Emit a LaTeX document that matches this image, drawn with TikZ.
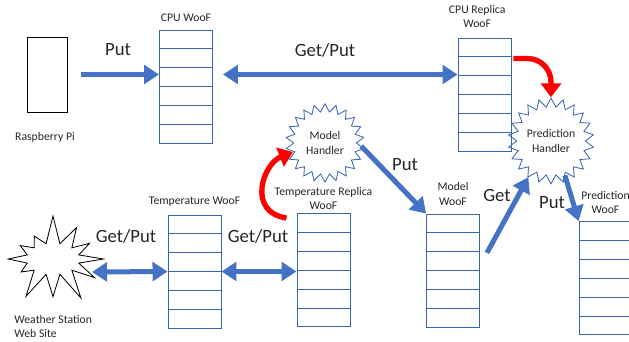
\documentclass[tikz,border=0pt]{standalone}
\usepackage{fontspec}
\setmainfont{Carlito}
\usepackage{xcolor}
\definecolor{woofblue}{HTML}{4472C4}
\definecolor{woofedge}{HTML}{3B64AE}
\definecolor{trigred}{HTML}{FF0000}
\definecolor{labelgray}{HTML}{262626}
\usetikzlibrary{shapes.geometric, shapes.symbols, arrows.meta, positioning, calc}

% horizontal slots inside a WooF box
\newcommand{\woofrows}[1]{%
  \foreach \k in {1,...,5}
    \draw[woofedge, line width=0.8pt] ($(#1.north west)!\k/6!(#1.south west)$) -- ($(#1.north east)!\k/6!(#1.south east)$);}

\begin{document}
\begin{tikzpicture}[
  x=0.03cm, y=-0.03cm,
  woof/.style={rectangle, draw=woofedge, line width=0.8pt,
    minimum width=1.59cm, minimum height=3.39cm, inner sep=0pt},
  handler/.style={star, star points=22, star point ratio=1.25, draw=woofedge,
    line width=0.7pt, minimum size=2.35cm, inner sep=0pt, align=center,
    font=\fontsize{10}{12}\selectfont, text=labelgray},
  title/.style={align=center, inner sep=1pt, font=\fontsize{10}{12}\selectfont,
    text=labelgray},
  verb/.style={inner sep=1pt, font=\fontsize{16}{19}\selectfont, text=labelgray},
  arrow/.style={-{Triangle[length=0.45cm, width=0.56cm]}, line width=0.15cm,
    color=woofblue},
  bidir/.style={{Triangle[length=0.45cm, width=0.56cm]}-{Triangle[length=0.45cm, width=0.56cm]},
    line width=0.15cm, color=woofblue},
  trigger/.style={-{Triangle[length=0.42cm, width=0.6cm]}, line width=0.16cm,
    color=trigred}
]
\useasboundingbox (0,0) rectangle (629,341);

% CPU side
\node[rectangle, draw, line width=0.8pt, minimum width=1.2cm,
  minimum height=2.25cm] (pi) at (47,74.5) {};
\node[title] (pilbl) at (45,137) {Raspberry Pi};

\node[woof] (cpu) at (186,86.5) {};
\woofrows{cpu}
\node[title, above=6pt of cpu] (cputitle) {CPU WooF};

\node[woof] (replica) at (484.5,94.5) {};
\woofrows{replica}
\node[title, above=7pt of replica, xshift=-0.22cm] (reptitle) {CPU Replica\\WooF};

\node[handler] (predh) at (551,141) {Prediction\\Handler};

% weather side
\node[starburst, draw, line width=0.7pt, starburst points=12,
  starburst point height=0.9cm, random starburst=7,
  minimum width=3.4cm, minimum height=2.75cm] (weather) at (53,259) {};
\node[title, align=left, anchor=north west] (wslbl) at (13,314)
  {Weather Station\\Web Site};
\coordinate (wsport) at (92,272);

\node[woof] (temp) at (194.5,271.5) {};
\woofrows{temp}
\node[title, above=6pt of temp] (temptitle) {Temperature WooF};

\node[woof] (treplica) at (323.5,270) {};
\woofrows{treplica}
\node[title, above=2pt of treplica] (treptitle) {Temperature Replica\\WooF};

\node[handler] (modelh) at (325,143) {Model\\Handler};

\node[woof] (modelw) at (453,270.5) {};
\woofrows{modelw}
\node[title, above=6pt of modelw] (mwtitle) {Model\\WooF};

\node[woof] (predw) at (605.5,278) {};
\woofrows{predw}
\node[title, above=5pt of predw] (pwtitle) {Prediction\\WooF};

% connectors
\draw[arrow, shorten <=0.42cm] (pi.east) -- (cpu.west |- pi.east);
\node[verb] (put1) at (118,50) {Put};

\draw[bidir, shorten <=0.3cm] (cpu.east |- pi.east) -- (replica.west |- pi.east);
\node[verb] (getput1) at (325,50) {Get/Put};

\draw[trigger, rounded corners=0.7cm]
  ([shift={(0.06cm,-0.63cm)}]replica.north east) -| (predh.north);

\draw[bidir] (wsport) -- (temp.west);
\node[verb] (getput2) at (126,236) {Get/Put};

\draw[bidir] (temp.east) -- (treplica.west |- temp.east);
\node[verb] (getput3) at (258,236) {Get/Put};

\draw[trigger] ([shift={(-0.3cm,-0.15cm)}]treplica.north west)
  .. controls +(-40,-6) and +(-30,12) .. ([yshift=-0.27cm]modelh.west);

\draw[arrow] (modelh.-5) -- (modelw.north west);
\node[verb] (put2) at (405,165) {Put};

\draw[arrow] ([shift={(0.21cm,0.53cm)}]modelw.east) -- (predh.238);
\node[verb] (get1) at (497,195) {Get};

\draw[arrow] (predh.-68) -- (predw.north west);
\node[verb] (put3) at (552,203) {Put};
\end{tikzpicture}
\end{document}
